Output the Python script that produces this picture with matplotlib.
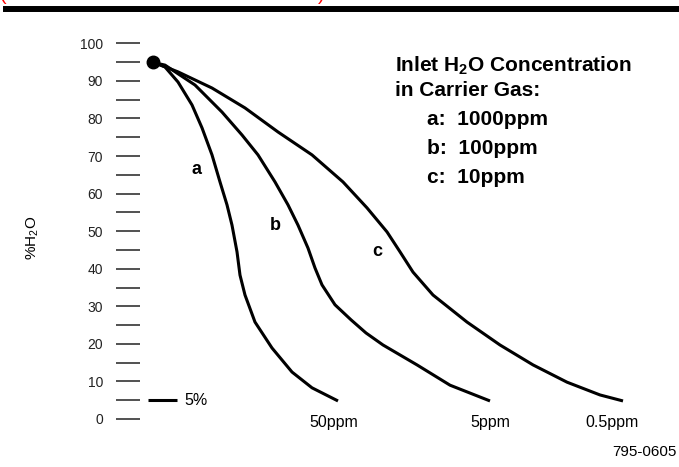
import matplotlib
matplotlib.use("Agg")
import matplotlib.pyplot as plt
from matplotlib.lines import Line2D

plt.rcParams['font.family'] = ['Liberation Sans', 'DejaVu Sans']
plt.rcParams['mathtext.fontset'] = 'custom'
plt.rcParams['mathtext.rm'] = 'Liberation Sans'
plt.rcParams['mathtext.bf'] = 'Liberation Sans:bold'

# x is arbitrary drying time (no scale on the original), y is %H2O
start_x, start_y = 153, 95.0

a_x = [155, 165, 178, 192, 202, 212, 220, 227, 232, 237, 240, 245, 255, 272, 292, 312, 338]
a_y = [94.8, 93.7, 89.7, 83.6, 77.5, 70.3, 63.1, 57.0, 51.6, 44.5, 38.3, 33.0, 25.8, 18.9, 12.5, 8.3, 4.8]

b_x = [155, 165, 195, 222, 242, 258, 275, 288, 298, 308, 315, 322, 335, 351, 366, 383, 417, 450, 490]
b_y = [94.8, 94.2, 88.9, 81.7, 75.6, 70.3, 63.1, 57.0, 51.6, 45.5, 40.2, 35.7, 30.4, 26.4, 22.9, 19.7, 14.4, 9.0, 4.8]

c_x = [155, 178, 212, 245, 278, 312, 343, 367, 387, 400, 413, 433, 467, 500, 533, 567, 600, 623]
c_y = [94.8, 92.4, 88.1, 82.8, 76.4, 70.3, 63.1, 56.2, 49.8, 44.5, 39.1, 33.0, 25.8, 19.7, 14.4, 9.8, 6.4, 4.8]

end_labels = ["50ppm", "5ppm", "0.5ppm"]
end_label_x = [334, 490, 612]
curve_names = ["a", "b", "c"]
curve_label_x = [197, 275, 377]
curve_label_y = [66.3, 51.6, 44.5]
legend_title = [r'Inlet H$_\mathbf{2}$O Concentration', 'in Carrier Gas:']
legend_lines = ["a:  1000ppm", "b:  100ppm", "c:  10ppm"]
major_ticks = list(range(0, 101, 10))
minor_ticks = list(range(5, 100, 10))
threshold = 5

W, H = 679, 467
fig = plt.figure(figsize=(W / 100, H / 100), dpi=100)
ax = fig.add_axes([140 / W, 0, 1 - 140 / W, 1])
ax.set_xlim(140, 679)
ax.set_ylim(-12.78, 111.53)
for s in ax.spines.values():
    s.set_visible(False)
ax.set_xticks([])
ax.set_yticks(major_ticks)
ax.set_yticks(minor_ticks, minor=True)
ax.tick_params(axis='y', which='both', direction='out', length=17.3, width=1.1,
               color='#222222', pad=9.4, labelsize=10, labelcolor='#222222')
for t in ax.get_yticklabels():
    t.set_family(['Liberation Sans Narrow', 'Liberation Sans'])
ax.set_ylabel('%H$_2$O', fontsize=11)
ax.yaxis.set_label_coords(-0.1837, 0.49)

for xs, ys in [(a_x, a_y), (b_x, b_y), (c_x, c_y)]:
    ax.plot(xs, ys, color='black', lw=2.2, solid_capstyle='butt', solid_joinstyle='round')
ax.plot([start_x], [start_y], 'o', color='black', ms=9)

ax.hlines(threshold, 148, 177, color='black', lw=2.2)
ax.text(184, threshold, f'{threshold}%', va='center', ha='left', fontsize=11.5)

for name, x, y in zip(curve_names, curve_label_x, curve_label_y):
    ax.text(x, y, name, ha='center', va='center', fontsize=13, fontweight='bold')
for lab, x in zip(end_labels, end_label_x):
    ax.text(x, -2.1, lab, ha='center', va='baseline', fontsize=11.5)

for line, y in zip(legend_title, [92.6, 86.0]):
    ax.text(395, y, line, ha='left', va='baseline', fontsize=15, fontweight='bold')
for line, y in zip(legend_lines, [78.3, 70.5, 62.8]):
    ax.text(427, y, line, ha='left', va='baseline', fontsize=15, fontweight='bold')

fig.text(677 / W, 1 - 452 / H, '795-0605', ha='right', va='center', fontsize=11)

# header rule and the clipped red title above it
fig.add_artist(Line2D([6 / W, 1], [1 - 9 / H, 1 - 9 / H], color='black', lw=4.3,
                      transform=fig.transFigure))
fig.text(0.0, 1.0, '(', color='red', va='baseline', ha='left', fontsize=14)
fig.text(318 / W, 1.0, ')', color='red', va='baseline', ha='left', fontsize=14)

fig.savefig('out.png', dpi=100)
